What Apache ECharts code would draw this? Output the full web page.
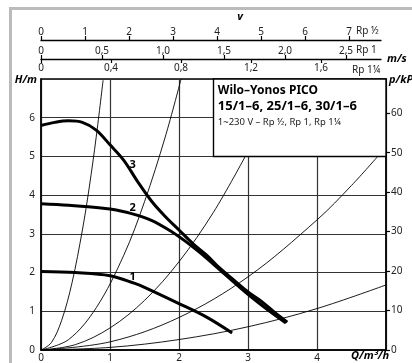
<!DOCTYPE html>
<html><head><meta charset="utf-8">
<script src="https://cdn.jsdelivr.net/npm/echarts@6/dist/echarts.min.js"></script>
<style>html,body{margin:0;padding:0;background:#fff}#c{width:412px;height:363px}</style>
</head><body><div id="c"></div>
<script>
// Pump curves (Q in m³/h, H in m)
const pump1Q = [0, 0.5, 1.0, 1.36, 1.5, 2.0, 2.4, 2.77];
const pump1H = [2.03, 2.0, 1.92, 1.72, 1.62, 1.2, 0.85, 0.44];
const pump2Q = [0, 0.4, 0.8, 1.0, 1.3, 1.6, 1.9, 2.1, 2.3, 2.6, 3.0, 3.3, 3.55];
const pump2H = [3.78, 3.74, 3.68, 3.64, 3.53, 3.35, 3.05, 2.8, 2.52, 2.06, 1.44, 1.02, 0.7];
const pump3Q = [0, 0.2, 0.4, 0.6, 0.8, 1.0, 1.2, 1.4, 1.6, 1.8, 2.0, 2.2, 2.4, 2.6, 2.8, 3.0, 3.2, 3.4, 3.57];
const pump3H = [5.8, 5.88, 5.92, 5.88, 5.68, 5.3, 4.9, 4.35, 3.85, 3.45, 3.1, 2.75, 2.45, 2.1, 1.8, 1.5, 1.25, 0.95, 0.72];
// System (pipe) curves (visible parts, ending at the plot top or the text box)
const sysAQ = [0, 0.15, 0.3, 0.45, 0.6, 0.7, 0.8, 0.9];
const sysAH = [0, 0.19, 0.77, 1.74, 3.1, 4.21, 5.5, 6.97];
const sysBQ = [0, 0.4, 0.8, 1.2, 1.5, 1.8, 2.03];
const sysBH = [0, 0.27, 1.09, 2.45, 3.83, 5.5, 7.0];
const sysCQ = [0, 0.5, 1.0, 1.5, 2.0, 2.5, 2.96];
const sysCH = [0, 0.14, 0.57, 1.28, 2.28, 3.56, 5.0];
const sysDQ = [0, 1, 2, 3, 4, 4.5, 4.88];
const sysDH = [0, 0.21, 0.84, 1.89, 3.36, 4.25, 5.0];
const sysEQ = [0, 1, 2, 3, 4, 5];
const sysEH = [0, 0.067, 0.27, 0.6, 1.07, 1.68];
// Curve number labels
const curveLabels = ['1', '2', '3'];
const curveLabelQ = [1.33, 1.33, 1.33];
const curveLabelH = [1.9, 3.66, 4.77];
// Tick labels
const qTicks = ['0', '1', '2', '3', '4'];
const hTicks = ['0', '1', '2', '3', '4', '5', '6'];
const pTicks = ['0', '10', '20', '30', '40', '50', '60'];
const vRpHalfTicks = ['0', '1', '2', '3', '4', '5', '6', '7'];
const vRp1Ticks = ['0', '0,5', '1,0', '1,5', '2,0', '2,5'];
const vRp114Ticks = ['0', '0,4', '0,8', '1,2', '1,6'];

const FONT = 'Noto Sans';
const pairs = (q, h) => q.map((v, i) => [v, h[i]]);
const chart = echarts.init(document.getElementById('c'), null, {renderer: 'canvas'});

function topAxis(pos, max, interval, ticks, inside, showLine, margin) {
  return {
    gridIndex: 1, type: 'value', position: pos, min: 0, max: max, interval: interval,
    axisLine: {show: showLine, onZero: false, lineStyle: {color: '#000', width: 1.3}},
    axisTick: {show: true, inside: inside, length: 4, lineStyle: {color: '#000', width: 1.2}},
    axisLabel: {
      inside: inside, margin: margin, fontFamily: FONT, fontSize: 10, color: '#222',
      showMaxLabel: false,
      formatter: function (v) {
        const k = Math.round(v / interval);
        return (Math.abs(v - k * interval) < 1e-6 && k < ticks.length) ? ticks[k] : '';
      }
    },
    splitLine: {show: false}
  };
}

const sysStyle = {color: '#000', width: 0.9};
function sysSeries(q, h) {
  return {type: 'line', data: pairs(q, h), smooth: 0.35, symbol: 'none',
    lineStyle: sysStyle, z: 3, silent: true};
}
function pumpSeries(q, h, idx) {
  return {type: 'line', data: pairs(q, h), smooth: 0.35, symbol: 'none',
    lineStyle: {color: '#000', width: 3}, z: 5, silent: true,
    markPoint: {symbol: 'circle', symbolSize: 0, silent: true,
      label: {show: true, position: 'inside', formatter: curveLabels[idx], fontFamily: FONT,
        fontSize: 11, fontWeight: 'bold', color: '#000'},
      data: [{coord: [curveLabelQ[idx], curveLabelH[idx]]}]}};
}

const option = {
  animation: false,
  backgroundColor: '#fff',
  grid: [
    {left: 41, right: 26, top: 79, bottom: 13, show: true, borderColor: '#000', borderWidth: 1.3, backgroundColor: 'transparent'},
    {left: 41, width: 340, top: 40, height: 19, show: false}
  ],
  xAxis: [
    {gridIndex: 0, type: 'value', position: 'bottom', min: 0, max: 5, interval: 1,
      axisLine: {show: true, onZero: false, lineStyle: {color: '#000', width: 1.5}},
      axisTick: {show: false},
      axisLabel: {margin: 3, fontFamily: FONT, fontSize: 10, color: '#222', showMaxLabel: false,
        formatter: function (v) { return qTicks[v] !== undefined ? qTicks[v] : ''; }},
      splitLine: {show: true, lineStyle: {color: '#333', width: 1.2}}},
    topAxis('top', 340 / 44, 1, vRpHalfTicks, false, true, 3),
    topAxis('bottom', 340 / 122, 0.5, vRp1Ticks, true, true, 3),
    topAxis('bottom', 340 / 175, 0.4, vRp114Ticks, false, false, 4)
  ],
  yAxis: [
    {gridIndex: 0, type: 'value', position: 'left', min: 0, max: 7, interval: 1,
      axisLine: {show: true, onZero: false, lineStyle: {color: '#000', width: 1.5}},
      axisTick: {show: false},
      axisLabel: {margin: 6, fontFamily: FONT, fontSize: 10, color: '#222', showMaxLabel: false,
        formatter: function (v) { return hTicks[v] !== undefined ? hTicks[v] : ''; }},
      splitLine: {show: true, lineStyle: {color: '#333', width: 1.2}}},
    {gridIndex: 0, type: 'value', position: 'right', min: 0, max: 7 * 9.81, interval: 10,
      axisLine: {show: true, onZero: false, lineStyle: {color: '#000', width: 1.5}},
      axisTick: {show: true, length: 4, lineStyle: {color: '#000', width: 1.2}},
      axisLabel: {margin: 5, fontFamily: FONT, fontSize: 10, color: '#222', showMaxLabel: false,
        formatter: function (v) { const k = Math.round(v / 10); return pTicks[k] !== undefined ? pTicks[k] : ''; }},
      splitLine: {show: false}},
    {gridIndex: 1, type: 'value', min: 0, max: 1, show: false}
  ],
  series: [
    sysSeries(sysAQ, sysAH),
    sysSeries(sysBQ, sysBH),
    sysSeries(sysCQ, sysCH),
    sysSeries(sysDQ, sysDH),
    sysSeries(sysEQ, sysEH),
    pumpSeries(pump1Q, pump1H, 0),
    pumpSeries(pump2Q, pump2H, 1),
    pumpSeries(pump3Q, pump3H, 2),
    {type: 'line', data: [], z: 10, silent: true,
      markArea: {silent: true,
        itemStyle: {color: '#fff', borderColor: '#000', borderWidth: 1.4, opacity: 1},
        label: {show: true, position: 'insideTopLeft', distance: 5, fontFamily: FONT,
          formatter: '{a|Wilo–Yonos PICO}\n{b|15/1–6, 25/1–6, 30/1–6}\n{c|1~230 V – Rp ½, Rp 1, Rp 1¼}',
          rich: {
            a: {fontFamily: FONT, fontSize: 12, fontWeight: 'bold', color: '#000', lineHeight: 15},
            b: {fontFamily: FONT, fontSize: 13, fontWeight: 'bold', color: '#000', lineHeight: 16},
            c: {fontFamily: FONT, fontSize: 9.5, color: '#222', lineHeight: 15}
          }},
        data: [[{xAxis: 2.5, yAxis: 5}, {xAxis: 5, yAxis: 7}]]}}
  ],
  graphic: [
    {type: 'line', shape: {x1: 10.5, y1: 8.5, x2: 10.5, y2: 363}, style: {stroke: '#bbb', lineWidth: 3}, silent: true},
    {type: 'line', shape: {x1: 9, y1: 8.5, x2: 412, y2: 8.5}, style: {stroke: '#bbb', lineWidth: 3}, silent: true},
    {type: 'text', x: 240, y: 17, style: {text: 'v', font: 'italic bold 11px "Noto Sans"', fill: '#000', align: 'center', verticalAlign: 'middle'}},
    {type: 'text', x: 356, y: 31, style: {text: 'Rp ½', font: '10px "Noto Sans"', fill: '#222', align: 'left', verticalAlign: 'middle'}},
    {type: 'text', x: 356, y: 50, style: {text: 'Rp 1', font: '10px "Noto Sans"', fill: '#222', align: 'left', verticalAlign: 'middle'}},
    {type: 'text', x: 387, y: 59, style: {text: 'm/s', font: 'italic bold 11px "Noto Sans"', fill: '#000', align: 'left', verticalAlign: 'middle'}},
    {type: 'text', x: 352, y: 70, style: {text: 'Rp 1¼', font: '10px "Noto Sans"', fill: '#222', align: 'left', verticalAlign: 'middle'}},
    {type: 'text', x: 37, y: 80, style: {text: 'H/m', font: 'italic bold 11px "Noto Sans"', fill: '#000', align: 'right', verticalAlign: 'middle'}},
    {type: 'text', x: 389, y: 80, style: {text: 'p/kPa', font: 'italic bold 11px "Noto Sans"', fill: '#000', align: 'left', verticalAlign: 'middle'}},
    {type: 'text', x: 351, y: 356, style: {text: 'Q/m³/h', font: 'italic bold 11px "Noto Sans"', fill: '#000', align: 'left', verticalAlign: 'middle'}}
  ]
};
chart.setOption(option);
</script></body></html>
